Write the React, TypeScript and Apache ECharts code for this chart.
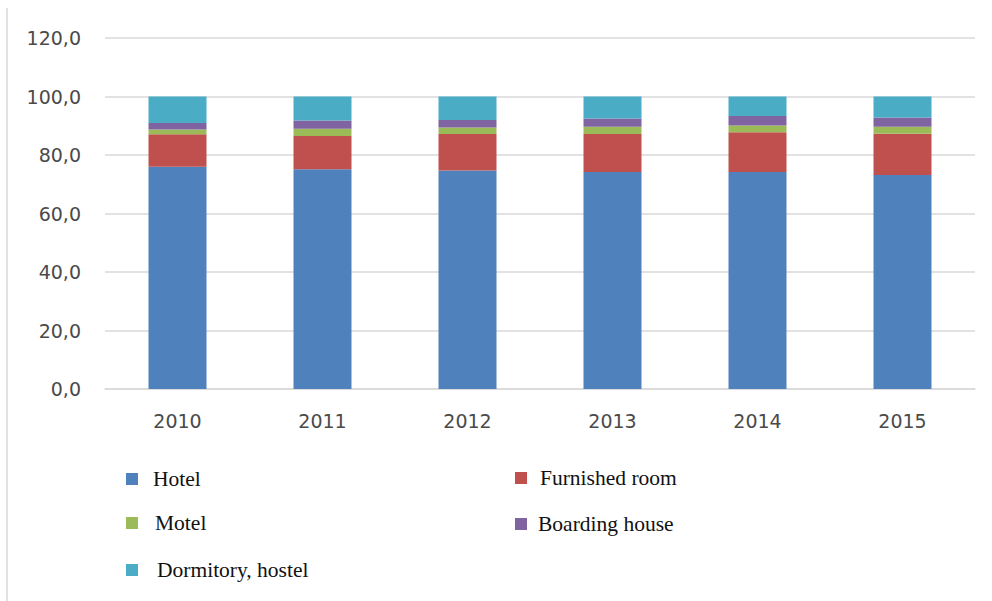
import React, { useEffect, useRef } from "react";
import * as echarts from "echarts";

const years = ["2010", "2011", "2012", "2013", "2014", "2015"];
const hotel = [76.0, 75.1, 74.7, 74.2, 74.2, 73.2];
const furnishedRoom = [11.1, 11.4, 12.5, 13.0, 13.6, 14.1];
const motel = [1.6, 2.5, 2.2, 2.5, 2.3, 2.4];
const boardingHouse = [2.2, 2.8, 2.6, 2.8, 3.2, 3.1];
const dormitory = [9.1, 8.2, 8.0, 7.5, 6.7, 7.2];

const seriesNames = ["Hotel", "Furnished room", "Motel", "Boarding house", "Dormitory, hostel"];
const seriesData = [hotel, furnishedRoom, motel, boardingHouse, dormitory];
const colors = ["#4f81bd", "#c0504d", "#9bbb59", "#8064a2", "#4bacc6"];

const legendPos: Record<string, { left: number; top: number; pad: number }> = {
  Hotel: { left: 126, top: 468, pad: 10 },
  "Furnished room": { left: 515, top: 467, pad: 8 },
  Motel: { left: 126, top: 512, pad: 12 },
  "Boarding house": { left: 515, top: 513, pad: 6 },
  "Dormitory, hostel": { left: 126, top: 559, pad: 14 },
};

export default function App() {
  const ref = useRef<HTMLDivElement>(null);
  useEffect(() => {
    if (!ref.current) return;
    const chart = echarts.init(ref.current, undefined, { renderer: "svg" });
    const legends = seriesNames.map((n) => ({
      data: [n],
      left: legendPos[n].left,
      top: legendPos[n].top,
      padding: 0,
      icon: "rect",
      itemWidth: 12,
      itemHeight: 12,
      selectedMode: false,
      textStyle: {
        fontFamily: "Liberation Serif",
        fontSize: 21.5,
        color: "#111",
        lineHeight: 22,
        padding: [0, 0, 0, legendPos[n].pad],
      },
    }));
    chart.setOption({
      animation: false,
      backgroundColor: "#ffffff",
      color: colors,
      grid: { left: 105, right: 17, top: 38, bottom: 212 },
      legend: legends,
      xAxis: {
        type: "category",
        data: years,
        axisLine: { lineStyle: { color: "#d9d9d9", width: 1.5 } },
        axisTick: { show: false },
        axisLabel: {
          fontFamily: "DejaVu Sans",
          fontSize: 19,
          color: "#4a4a4a",
          margin: 22,
        },
      },
      yAxis: {
        type: "value",
        min: 0,
        max: 120,
        interval: 20,
        axisLine: { show: false },
        axisTick: { show: false },
        splitLine: { lineStyle: { color: "#d9d9d9", width: 1.5 } },
        axisLabel: {
          fontFamily: "DejaVu Sans",
          fontSize: 19,
          color: "#4a4a4a",
          margin: 24,
          formatter: (v: number) => v.toFixed(1).replace(".", ","),
        },
      },
      graphic: [
        {
          type: "line",
          shape: { x1: 7, y1: 8, x2: 7, y2: 601 },
          style: { stroke: "#d9d9d9", lineWidth: 1.5 },
        },
      ],
      series: seriesNames.map((n, i) => ({
        name: n,
        type: "bar",
        stack: "total",
        barWidth: "40%",
        data: seriesData[i],
        itemStyle: { color: colors[i] },
      })),
    });
    return () => chart.dispose();
  }, []);
  return <div ref={ref} style={{ width: 992, height: 601, position: "absolute", left: 0, top: 0 }} />;
}
